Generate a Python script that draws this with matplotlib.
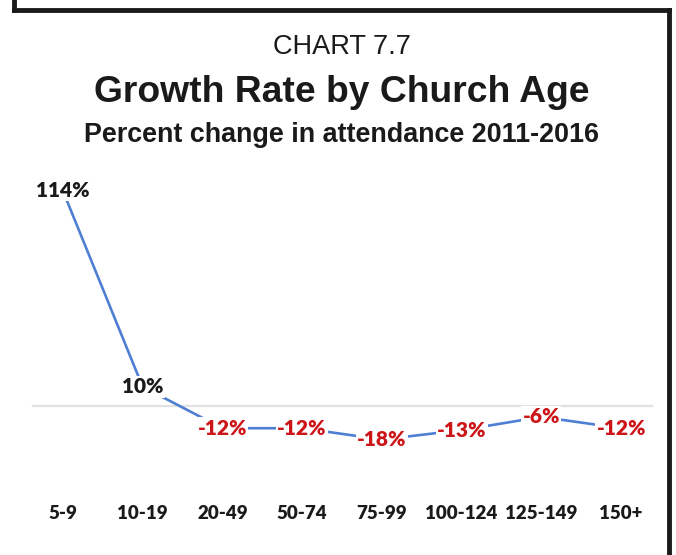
import matplotlib.pyplot as plt
from matplotlib.lines import Line2D

# datos
categorias = ['5-9', '10-19', '20-49', '50-74', '75-99', '100-124', '125-149', '150+']
crecimiento = [114, 10, -12, -12, -18, -13, -6, -12]

W, H = 676, 555
fig = plt.figure(figsize=(W / 100, H / 100), dpi=100)
fig.patch.set_facecolor('white')

# marco negro (arriba, izquierda, derecha)
for xs, ys in [((14, 14), (0, 10)), ((14, 669), (10, 10)), ((669, 669), (10, 555))]:
    fig.add_artist(Line2D([x / W for x in xs], [1 - y / H for y in ys],
                          color='#1a1a1a', lw=3.5, transform=fig.transFigure))

# titulos
fig.text(342 / W, 1 - 47 / H, 'CHART 7.7', ha='center', va='center',
         fontsize=19.5, family='Liberation Sans', color='#1a1a1a')
fig.text(342 / W, 1 - 92 / H, 'Growth Rate by Church Age', ha='center', va='center',
         fontsize=26.8, fontweight='bold', family='Liberation Sans', color='#1a1a1a')
fig.text(342 / W, 1 - 135 / H, 'Percent change in attendance 2011-2016', ha='center',
         va='center', fontsize=19.4, fontweight='bold', family='Liberation Sans', color='#1a1a1a')

ax = fig.add_axes([23 / W, 1 - 481 / H, 638 / W, 311 / H])
ax.set_xlim(-0.5, 7.5)
ax.set_ylim(-40, 125)
ax.axhline(0, xmin=0.016, xmax=0.986, color='#e2e2e2', lw=1.6, zorder=1)

x = list(range(len(categorias)))
ax.plot(x, crecimiento, color='#4f7fd3', lw=1.9, zorder=2)

for xi, v in zip(x, crecimiento):
    col = '#1a1a1a' if v >= 0 else '#cc1519'
    ax.text(xi, v, f'{v}%', ha='center', va='center', fontsize=15, fontweight='heavy',
            family='Lato', color=col, zorder=3,
            bbox=dict(boxstyle='square,pad=0.06', fc='white', ec='none'))

ax.set_xticks(x, categorias)
ax.tick_params(axis='x', length=0, pad=17, labelsize=13.5)
for lbl in ax.get_xticklabels():
    lbl.set_fontweight('heavy')
    lbl.set_family('Lato')
    lbl.set_color('#1a1a1a')
ax.set_yticks([])
for s in ax.spines.values():
    s.set_visible(False)
ax.patch.set_alpha(0)

fig.savefig('out.png', dpi=100)
